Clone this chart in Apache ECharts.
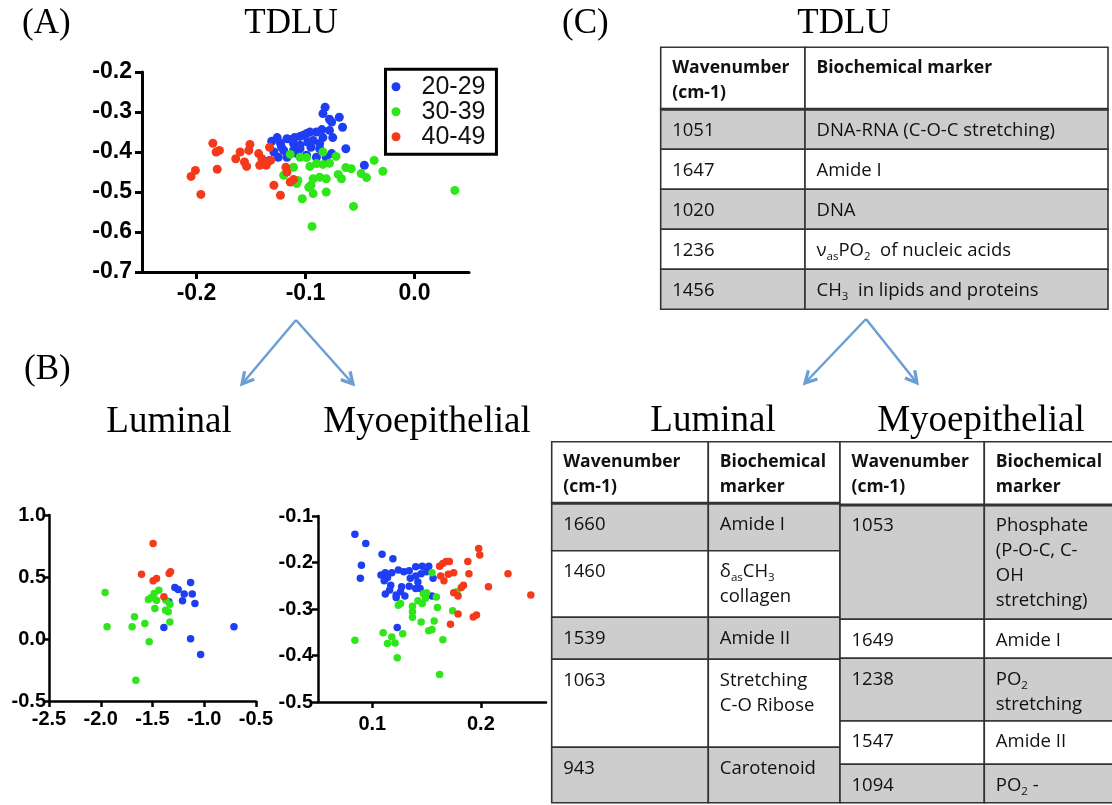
<!DOCTYPE html>
<html>
<head>
<meta charset="utf-8">
<script src="https://cdn.jsdelivr.net/npm/echarts@6/dist/echarts.min.js"></script>
<style>
html, body { margin: 0; padding: 0; background: #fff; }
#main { width: 1112px; height: 805px; }
</style>
</head>
<body>
<div id="main"></div>
<script>
// age groups
var groups = ['20-29', '30-39', '40-49']
var groupColors = ['#1d3ef3', '#2ee61a', '#f43a1a']

// (A) TDLU scores
var tdlu2029 = [[-0.082,-0.288],[-0.084,-0.304],[-0.069,-0.313],[-0.078,-0.318],[-0.076,-0.325],[-0.066,-0.338],[-0.078,-0.346],[-0.085,-0.344],[-0.090,-0.350],[-0.096,-0.350],[-0.099,-0.354],[-0.102,-0.358],[-0.105,-0.361],[-0.110,-0.364],[-0.113,-0.369],[-0.117,-0.367],[-0.126,-0.364],[-0.131,-0.373],[-0.123,-0.378],[-0.111,-0.379],[-0.105,-0.383],[-0.093,-0.371],[-0.084,-0.364],[-0.075,-0.364],[-0.087,-0.379],[-0.095,-0.388],[-0.105,-0.392],[-0.111,-0.396],[-0.120,-0.396],[-0.129,-0.400],[-0.125,-0.413],[-0.133,-0.421],[-0.117,-0.413],[-0.108,-0.404],[-0.099,-0.408],[-0.090,-0.413],[-0.081,-0.413],[-0.076,-0.404],[-0.087,-0.392],[-0.063,-0.392],[-0.046,-0.433],[-0.098,-0.375],[-0.122,-0.388]]
var tdlu3039 = [[-0.136,-0.429],[-0.114,-0.406],[-0.099,-0.414],[-0.084,-0.400],[-0.072,-0.411],[-0.111,-0.438],[-0.096,-0.436],[-0.090,-0.429],[-0.084,-0.431],[-0.078,-0.428],[-0.063,-0.439],[-0.058,-0.442],[-0.120,-0.458],[-0.107,-0.471],[-0.108,-0.479],[-0.093,-0.467],[-0.087,-0.463],[-0.081,-0.467],[-0.095,-0.483],[-0.097,-0.488],[-0.081,-0.500],[-0.070,-0.456],[-0.067,-0.467],[-0.049,-0.454],[-0.044,-0.464],[-0.037,-0.421],[-0.029,-0.448],[-0.103,-0.517],[-0.093,-0.504],[-0.056,-0.536],[0.037,-0.496],[-0.094,-0.586],[-0.105,-0.413]]
var tdlu4049 = [[-0.205,-0.461],[-0.201,-0.446],[-0.196,-0.506],[-0.185,-0.378],[-0.182,-0.400],[-0.179,-0.396],[-0.181,-0.443],[-0.164,-0.417],[-0.160,-0.400],[-0.156,-0.425],[-0.154,-0.436],[-0.151,-0.381],[-0.152,-0.396],[-0.143,-0.404],[-0.140,-0.417],[-0.142,-0.433],[-0.136,-0.433],[-0.133,-0.388],[-0.132,-0.421],[-0.129,-0.483],[-0.123,-0.508],[-0.118,-0.438],[-0.117,-0.450],[-0.114,-0.475],[-0.111,-0.469]]

// (B) luminal scores
var lum2029 = [[-1.284,0.416],[-1.252,0.399],[-1.132,0.456],[-1.194,0.362],[-1.210,0.308],[-1.116,0.362],[-1.090,0.286],[-1.342,0.300],[-1.390,0.092],[-1.132,0.003],[-1.035,-0.126],[-0.713,0.098]]
var lum3039 = [[-1.958,0.375],[-1.939,0.098],[-1.674,0.179],[-1.697,0.098],[-1.574,0.125],[-1.539,0.319],[-1.510,0.335],[-1.484,0.367],[-1.439,0.394],[-1.461,0.313],[-1.477,0.246],[-1.371,0.313],[-1.332,0.281],[-1.374,0.232],[-1.348,0.219],[-1.332,0.138],[-1.532,-0.023],[-1.661,-0.333]]
var lum4049 = [[-1.494,0.771],[-1.606,0.523],[-1.494,0.469],[-1.461,0.488],[-1.339,0.529],[-1.326,0.542],[-1.390,0.340]]

// (B) myoepithelial scores
var myo2029 = [[0.084,-0.139],[0.094,-0.159],[0.109,-0.182],[0.119,-0.192],[0.090,-0.206],[0.089,-0.234],[0.108,-0.227],[0.112,-0.222],[0.114,-0.232],[0.111,-0.239],[0.118,-0.222],[0.124,-0.216],[0.129,-0.220],[0.134,-0.218],[0.140,-0.209],[0.146,-0.208],[0.152,-0.208],[0.156,-0.234],[0.140,-0.229],[0.145,-0.224],[0.117,-0.249],[0.116,-0.259],[0.112,-0.268],[0.122,-0.270],[0.127,-0.252],[0.134,-0.251],[0.140,-0.256],[0.144,-0.256],[0.142,-0.242],[0.130,-0.272],[0.122,-0.275],[0.126,-0.263],[0.155,-0.272],[0.123,-0.340],[0.135,-0.234],[0.150,-0.220]]
var myo3039 = [[0.084,-0.367],[0.110,-0.351],[0.114,-0.374],[0.118,-0.360],[0.121,-0.373],[0.128,-0.353],[0.123,-0.405],[0.124,-0.292],[0.126,-0.288],[0.137,-0.294],[0.137,-0.306],[0.137,-0.318],[0.145,-0.328],[0.142,-0.282],[0.146,-0.288],[0.147,-0.267],[0.150,-0.265],[0.149,-0.277],[0.155,-0.222],[0.159,-0.274],[0.160,-0.297],[0.157,-0.326],[0.155,-0.344],[0.152,-0.347],[0.165,-0.366],[0.162,-0.441],[0.174,-0.304],[0.178,-0.263]]
var myo4049 = [[0.162,-0.208],[0.165,-0.202],[0.168,-0.198],[0.171,-0.198],[0.163,-0.229],[0.166,-0.239],[0.170,-0.225],[0.175,-0.222],[0.188,-0.198],[0.189,-0.224],[0.198,-0.170],[0.199,-0.184],[0.184,-0.249],[0.182,-0.254],[0.175,-0.265],[0.179,-0.272],[0.179,-0.311],[0.172,-0.333],[0.193,-0.317],[0.196,-0.313],[0.207,-0.252],[0.225,-0.224],[0.246,-0.270]]

// (C) tables
var tableHeader = ['Wavenumber\n(cm-1)', 'Biochemical marker']
var tableHeader2 = ['Wavenumber\n(cm-1)', 'Biochemical\nmarker']
var tdluWave = ['1051', '1647', '1020', '1236', '1456']
var tdluMarker = ['DNA-RNA (C-O-C stretching)', 'Amide I', 'DNA', 'ν_{as}PO_{2}  of nucleic acids', 'CH_{3}  in lipids and proteins']
var lumWave = ['1660', '1460', '1539', '1063', '943']
var lumMarker = ['Amide I', 'δ_{as}CH_{3}\ncollagen', 'Amide II', 'Stretching\nC-O Ribose', 'Carotenoid']
var myoWave = ['1053', '1649', '1238', '1547', '1094']
var myoMarker = ['Phosphate\n(P-O-C, C-\nOH\nstretching)', 'Amide I', 'PO_{2}\nstretching', 'Amide II', 'PO_{2} -']

var myChart = echarts.init(document.getElementById('main'))

var SANS = 'Liberation Sans, Arial, sans-serif'
var SERIF = 'Liberation Serif, Times New Roman, serif'
var CELL = 'Open Sans, Noto Sans, sans-serif'
var GRAY = '#cdcdcd'

function axisCfg(gi, min, max, lw, tick, fs, margin, interval, custom) {
  var a = {
    gridIndex: gi, type: 'value', min: min, max: max,
    axisLine: { show: true, onZero: false, lineStyle: { color: '#000', width: lw } },
    axisTick: { show: true, length: tick, lineStyle: { color: '#000', width: lw } },
    axisLabel: { formatter: function (v) { return v.toFixed(1) }, fontSize: fs, fontWeight: 'bold',
      fontFamily: SANS, color: '#000', margin: margin },
    splitLine: { show: false }
  }
  if (interval) a.interval = interval
  if (custom) { a.axisTick.customValues = custom; a.axisLabel.customValues = custom }
  return a
}

function dots(gi, data, k, size) {
  return { type: 'scatter', name: groups[k], data: data, xAxisIndex: gi, yAxisIndex: gi,
    symbolSize: size, itemStyle: { color: groupColors[k], opacity: 1 }, silent: true, animation: false }
}

// text with _{sub} markup -> rich text
function richText(s) {
  return s.split('\n').map(function (line) {
    return line.split(/_\{([^}]*)\}/).map(function (p, i) {
      if (p === '') return ''
      return i % 2 ? '{s|' + p + '}' : '{n|' + p + '}'
    }).join('')
  }).join('\n')
}
var cellRich = {
  n: { fontSize: 18.5, fontFamily: CELL, fill: '#111', color: '#111', lineHeight: 25 },
  s: { fontSize: 11.5, fontFamily: CELL, fill: '#111', color: '#111', lineHeight: 12, verticalAlign: 'bottom' }
}

var graphics = []

function table(cols, rows, header, wave, marker) {
  for (var r = 0; r < rows.length - 1; r++) {
    var fill = r === 0 ? '#fff' : (r % 2 ? GRAY : '#fff')
    for (var c = 0; c < 2; c++) {
      graphics.push({ type: 'rect', silent: true, z: 1,
        shape: { x: cols[c], y: rows[r], width: cols[c + 1] - cols[c], height: rows[r + 1] - rows[r] },
        style: { fill: fill, stroke: '#333', lineWidth: 1.6 } })
      var txt, st
      if (r === 0) {
        st = { text: header[c], fontSize: 17.5, fontWeight: 'bold', fontFamily: CELL, fill: '#111', lineHeight: 24.5 }
      } else {
        txt = c === 0 ? wave[r - 1] : marker[r - 1]
        st = { text: richText(txt), rich: cellRich, fill: '#111' }
      }
      st.align = 'left'; st.textAlign = 'left'
      st.verticalAlign = 'top'; st.textVerticalAlign = 'top'
      graphics.push({ type: 'text', silent: true, z: 3, x: cols[c] + 11.5, y: rows[r] + 8.5, style: st })
    }
  }
  graphics.push({ type: 'line', silent: true, z: 2,
    shape: { x1: cols[0], y1: rows[1], x2: cols[2], y2: rows[1] },
    style: { stroke: '#333', lineWidth: 3 } })
}

table([660.7, 805, 1108], [47.3, 109.3, 149.3, 189.3, 229.3, 269.3, 309.3], tableHeader, tdluWave, tdluMarker)
table([551.7, 708.3, 840], [441.7, 503.3, 550.7, 617.3, 659.3, 747.3, 802.7], tableHeader2, lumWave, lumMarker)
table([840, 984.3, 1130], [441.7, 505, 619.3, 658.3, 721, 764.3, 802.7], tableHeader2, myoWave, myoMarker)

function title(txt, x, y, align, size) {
  graphics.push({ type: 'text', silent: true, x: x, y: y,
    style: { text: txt, fontSize: size, fontFamily: SERIF, fill: '#000', align: align, textAlign: align,
      verticalAlign: 'middle', textVerticalAlign: 'middle' } })
}
title('(A)', 22, 23.5, 'left', 35)
title('TDLU', 291, 23.5, 'center', 35)
title('(C)', 562, 23.5, 'left', 35)
title('TDLU', 844, 23.5, 'center', 35)
title('(B)', 24, 370, 'left', 35)
title('Luminal', 169, 422, 'center', 37)
title('Myoepithelial', 427, 422, 'center', 37)
title('Luminal', 713, 421, 'center', 37)
title('Myoepithelial', 981, 421, 'center', 37)

function arrow(x1, y1, x2, y2) {
  var ang = Math.atan2(y2 - y1, x2 - x1), L = 13, w = 0.5
  graphics.push({ type: 'line', silent: true, shape: { x1: x1, y1: y1, x2: x2, y2: y2 },
    style: { stroke: '#6b9fd4', lineWidth: 2.5 } })
  graphics.push({ type: 'polyline', silent: true,
    shape: { points: [[x2 - L * Math.cos(ang - w), y2 - L * Math.sin(ang - w)], [x2, y2],
      [x2 - L * Math.cos(ang + w), y2 - L * Math.sin(ang + w)]] },
    style: { stroke: '#6b9fd4', lineWidth: 3.2, fill: null, lineJoin: 'miter' } })
}
arrow(296, 320, 242, 384)
arrow(296, 320, 353, 384)
arrow(866, 319, 805, 383)
arrow(866, 319, 917, 383)

var option = {
  animation: false,
  backgroundColor: '#fff',
  legend: {
    data: groups, orient: 'vertical', left: 385.5, top: 69.3, selectedMode: false,
    icon: 'circle', itemWidth: 9, itemHeight: 9, itemGap: 0,
    padding: [5, 11, 5, 6], borderColor: '#000', borderWidth: 3,
    textStyle: { fontSize: 25, fontFamily: SANS, color: '#111', lineHeight: 23.3, padding: [0, 0, 0, 16] }
  },
  grid: [
    { left: 142, top: 72, width: 327, height: 200 },
    { left: 49, top: 515, width: 207, height: 186 },
    { left: 318, top: 516, width: 228, height: 186 }
  ],
  xAxis: [
    axisCfg(0, -0.25, 0.05, 3, 7, 23, 10, null, [-0.2, -0.1, 0]),
    axisCfg(1, -2.5, -0.5, 2.5, 6, 20, 8, 0.5),
    axisCfg(2, 0.05, 0.26, 2.5, 6, 20, 12, null, [0.1, 0.2])
  ],
  yAxis: [
    axisCfg(0, -0.7, -0.2, 3, 7, 23, 10, 0.1),
    axisCfg(1, -0.5, 1.0, 2.5, 6, 20, 3, 0.5),
    axisCfg(2, -0.5, -0.1, 2.5, 6, 20, 5, 0.1)
  ],
  series: [
    dots(0, tdlu2029, 0, 9), dots(0, tdlu3039, 1, 9), dots(0, tdlu4049, 2, 9),
    dots(1, lum2029, 0, 7.5), dots(1, lum3039, 1, 7.5), dots(1, lum4049, 2, 7.5),
    dots(2, myo2029, 0, 7.5), dots(2, myo3039, 1, 7.5), dots(2, myo4049, 2, 7.5)
  ],
  graphic: graphics
}
myChart.setOption(option)
</script>
</body>
</html>
